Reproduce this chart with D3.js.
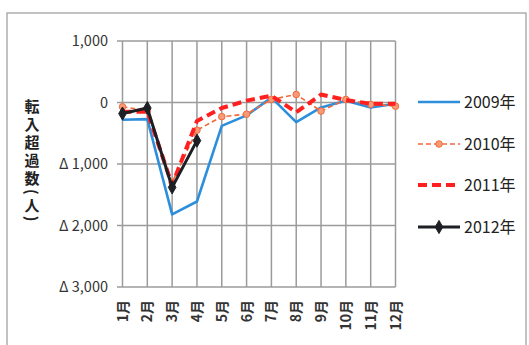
<!DOCTYPE html>
<html>
<head>
<meta charset="utf-8">
<script src="https://cdn.jsdelivr.net/npm/d3@7"></script>
<style>
  html, body { margin: 0; padding: 0; background: #fff; }
  svg { display: block; }
</style>
</head>
<body>
<svg id="chart" width="529" height="345"></svg>
<script>
// Monthly net in-migration (転入超過数), persons
const months = ["1月","2月","3月","4月","5月","6月","7月","8月","9月","10月","11月","12月"];
const yTicks = [1000, 0, -1000, -2000, -3000];
const yTickLabels = ["1,000", "0", "Δ 1,000", "Δ 2,000", "Δ 3,000"];

const v2009 = [-280, -270, -1820, -1610, -380, -210, 80, -320, -80, 30, -80, -20];
const v2010 = [-70, -130, -1300, -450, -230, -190, 50, 130, -140, 50, -30, -60];
const v2011 = [-150, -150, -1340, -300, -90, 30, 110, -160, 130, 40, -20, -20];
const v2012 = [-180, -90, -1380, -620];

const seriesNames = ["2009年", "2010年", "2011年", "2012年"];

const svg = d3.select("#chart");
const font = "'Noto Sans CJK JP', 'Noto Sans', sans-serif";

// outer frame
svg.append("rect")
  .attr("x", 7).attr("y", 13).attr("width", 519).attr("height", 340)
  .attr("fill", "none").attr("stroke", "#9a9a9a").attr("stroke-width", 1.2);

const x = d3.scalePoint().domain(months).range([122.5, 395.5]);
const y = d3.scaleLinear().domain([-3000, 1000]).range([287, 41]);

// gridlines
const grid = svg.append("g").attr("stroke", "#9b9b9b").attr("stroke-width", 1.5);
grid.selectAll("line.h").data(yTicks).join("line")
  .attr("x1", 117).attr("x2", x(months[months.length - 1]))
  .attr("y1", d => y(d)).attr("y2", d => y(d));
grid.selectAll("line.v").data(months).join("line")
  .attr("x1", d => x(d)).attr("x2", d => x(d))
  .attr("y1", y(1000)).attr("y2", y(-3000));

// y tick labels
svg.append("g").selectAll("text").data(yTicks).join("text")
  .attr("x", 108).attr("y", d => y(d) + 5)
  .attr("text-anchor", "end")
  .attr("font-family", font).attr("font-size", 14.5).attr("fill", "#333")
  .text((d, i) => yTickLabels[i]);

// x tick labels, rotated
svg.append("g").selectAll("text").data(months).join("text")
  .attr("transform", d => `translate(${x(d) + 5},300) rotate(-90)`)
  .attr("text-anchor", "end")
  .attr("font-family", font).attr("font-size", 14).attr("font-weight", "bold").attr("fill", "#333")
  .text(d => d);

// y axis title, vertical
svg.append("text")
  .attr("x", 32).attr("y", 99)
  .attr("font-family", font).attr("font-size", 15).attr("font-weight", "bold").attr("fill", "#222")
  .style("writing-mode", "vertical-rl")
  .style("letter-spacing", "3px")
  .text("転入超過数(人)");

const line = d3.line().x((d, i) => x(months[i])).y(d => y(d));

const styles = [
  { data: v2009, color: "#2d8fdc", width: 2.6, dash: null, marker: null },
  { data: v2010, color: "#f26a3c", width: 1.6, dash: "5,3", marker: "circle" },
  { data: v2011, color: "#ff1f1f", width: 4, dash: "9,5", marker: null },
  { data: v2012, color: "#1c1f24", width: 3, dash: null, marker: "diamond" }
];

const plot = svg.append("g");
styles.forEach(s => {
  plot.append("path").datum(s.data)
    .attr("d", line)
    .attr("fill", "none")
    .attr("stroke", s.color)
    .attr("stroke-width", s.width)
    .attr("stroke-dasharray", s.dash)
    .attr("stroke-linejoin", "round");
  if (s.marker) {
    const sym = d3.symbol().type(s.marker === "circle" ? d3.symbolCircle : d3.symbolDiamond)
      .size(s.marker === "circle" ? 34 : 50);
    plot.append("g").selectAll("path").data(s.data).join("path")
      .attr("transform", (d, i) => `translate(${x(months[i])},${y(d)})`)
      .attr("d", sym)
      .attr("fill", s.marker === "circle" ? "#f79a78" : s.color)
      .attr("stroke", s.color)
      .attr("stroke-width", 1);
  }
});

// legend
const legendY = [102, 144, 185, 227];
const legend = svg.append("g");
styles.forEach((s, i) => {
  const g = legend.append("g").attr("transform", `translate(0,${legendY[i]})`);
  g.append("line")
    .attr("x1", 418).attr("x2", 460).attr("y1", 0).attr("y2", 0)
    .attr("stroke", s.color).attr("stroke-width", s.width)
    .attr("stroke-dasharray", s.dash);
  if (s.marker) {
    const sym = d3.symbol().type(s.marker === "circle" ? d3.symbolCircle : d3.symbolDiamond)
      .size(s.marker === "circle" ? 34 : 50);
    g.append("path").attr("transform", "translate(439,0)").attr("d", sym)
      .attr("fill", s.marker === "circle" ? "#f79a78" : s.color)
      .attr("stroke", s.color).attr("stroke-width", 1);
  }
  g.append("text")
    .attr("x", 464).attr("y", 6)
    .attr("font-family", font).attr("font-size", 16).attr("fill", "#222")
    .text(seriesNames[i]);
});
</script>
</body>
</html>
